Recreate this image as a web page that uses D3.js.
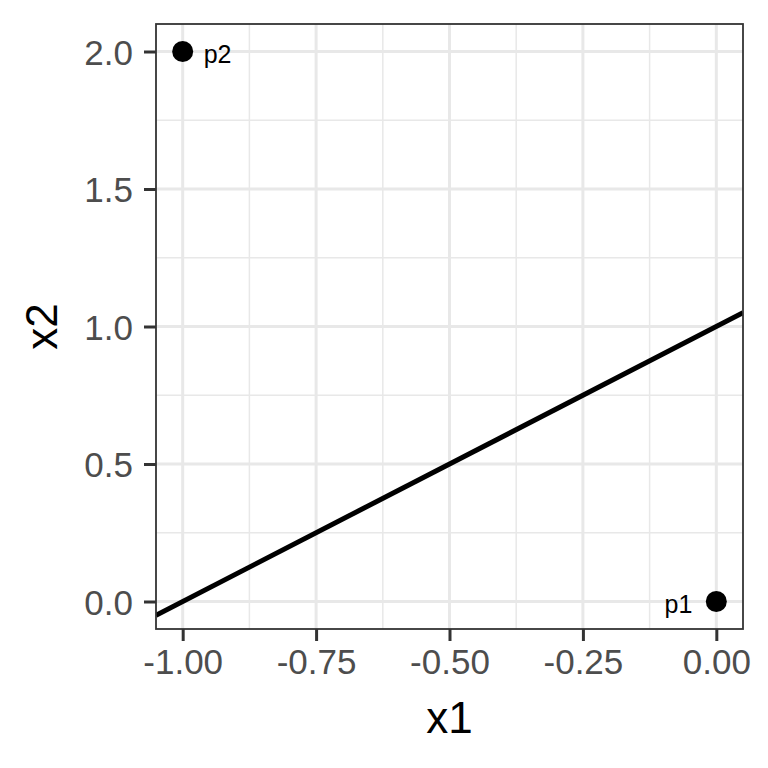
<!DOCTYPE html>
<html>
<head>
<meta charset="utf-8">
<script src="https://cdn.jsdelivr.net/npm/d3@7"></script>
<style>
  body { margin: 0; background: #fff; }
  svg { font-family: "Liberation Sans", Arial, sans-serif; }
</style>
</head>
<body>
<svg class="chart" width="768" height="768"></svg>
<script>
// points and the line x2 = slope * x1 + intercept
const pointNames = ["p1", "p2"],
  pointX1 = [0, -1],
  pointX2 = [0, 2],
  labelSide = ["left", "right"]
const lineSlope = 1, lineIntercept = 1
const xTicks = [-1, -0.75, -0.5, -0.25, 0],
  xMinor = [-0.875, -0.625, -0.375, -0.125],
  yTicks = [0, 0.5, 1, 1.5, 2],
  yMinor = [0.25, 0.75, 1.25, 1.75]

let svg = d3.select(".chart"),
  margin = {top: 24, right: 25, bottom: 139, left: 156},
  width = 768 - margin.left - margin.right,
  height = 768 - margin.top - margin.bottom

let x = d3.scaleLinear().domain([-1.05, 0.05]).range([0, width]),
  y = d3.scaleLinear().domain([-0.1, 2.1]).range([height, 0])

let g = svg.append("g")
  .attr("transform", "translate(" + margin.left + "," + margin.top + ")")

g.append("clipPath").attr("id", "clip")
  .append("rect").attr("width", width).attr("height", height)

// grid
g.selectAll(".minorx").data(xMinor).enter().append("line")
  .attr("x1", d => x(d)).attr("x2", d => x(d)).attr("y1", 0).attr("y2", height)
  .attr("stroke", "#e8e8e8").attr("stroke-width", 1.5)
g.selectAll(".minory").data(yMinor).enter().append("line")
  .attr("y1", d => y(d)).attr("y2", d => y(d)).attr("x1", 0).attr("x2", width)
  .attr("stroke", "#e8e8e8").attr("stroke-width", 1.5)
g.selectAll(".majorx").data(xTicks).enter().append("line")
  .attr("x1", d => x(d)).attr("x2", d => x(d)).attr("y1", 0).attr("y2", height)
  .attr("stroke", "#e8e8e8").attr("stroke-width", 3)
g.selectAll(".majory").data(yTicks).enter().append("line")
  .attr("y1", d => y(d)).attr("y2", d => y(d)).attr("x1", 0).attr("x2", width)
  .attr("stroke", "#e8e8e8").attr("stroke-width", 3)

// abline
let xd = x.domain()
g.append("line")
  .attr("clip-path", "url(#clip)")
  .attr("x1", x(xd[0])).attr("y1", y(lineSlope * xd[0] + lineIntercept))
  .attr("x2", x(xd[1])).attr("y2", y(lineSlope * xd[1] + lineIntercept))
  .attr("stroke", "#000").attr("stroke-width", 5)

// points and labels
g.selectAll("circle").data(pointNames).enter().append("circle")
  .attr("cx", (d, i) => x(pointX1[i])).attr("cy", (d, i) => y(pointX2[i]))
  .attr("r", 10.5).attr("fill", "#000")
g.selectAll(".plabel").data(pointNames).enter().append("text")
  .attr("x", (d, i) => x(pointX1[i]) + (labelSide[i] === "left" ? -24 : 21))
  .attr("y", (d, i) => y(pointX2[i]) + 11)
  .attr("text-anchor", (d, i) => labelSide[i] === "left" ? "end" : "start")
  .attr("font-size", 25).attr("fill", "#000")
  .text(d => d)

// panel border
g.append("rect").attr("width", width).attr("height", height)
  .attr("fill", "none").attr("stroke", "#333").attr("stroke-width", 1.8)

// axes
let fmt2 = d => d3.format(".2f")(d).replace("−", "-"),
  fmt1 = d => d3.format(".1f")(d).replace("−", "-")
let xAxis = g.append("g").attr("transform", "translate(0," + height + ")")
  .call(d3.axisBottom(x).tickValues(xTicks).tickFormat(fmt2).tickSize(12).tickPadding(8))
let yAxis = g.append("g")
  .call(d3.axisLeft(y).tickValues(yTicks).tickFormat(fmt1).tickSize(12).tickPadding(11))
;[xAxis, yAxis].forEach(a => {
  a.select(".domain").remove()
  a.selectAll(".tick line").attr("stroke", "#333").attr("stroke-width", 3)
  a.selectAll(".tick text").attr("fill", "#4d4d4d").attr("font-size", 35)
})
xAxis.selectAll(".tick text").attr("dy", "0.72em")
yAxis.selectAll(".tick text").attr("dy", "0.37em")

// titles
svg.append("text").attr("x", margin.left + width / 2).attr("y", 733)
  .attr("text-anchor", "middle").attr("font-size", 44).attr("fill", "#000").text("x1")
svg.append("text").attr("transform", "translate(57," + (margin.top + height / 2) + ") rotate(-90)")
  .attr("text-anchor", "middle").attr("font-size", 44).attr("fill", "#000").text("x2")
</script>
</body>
</html>
